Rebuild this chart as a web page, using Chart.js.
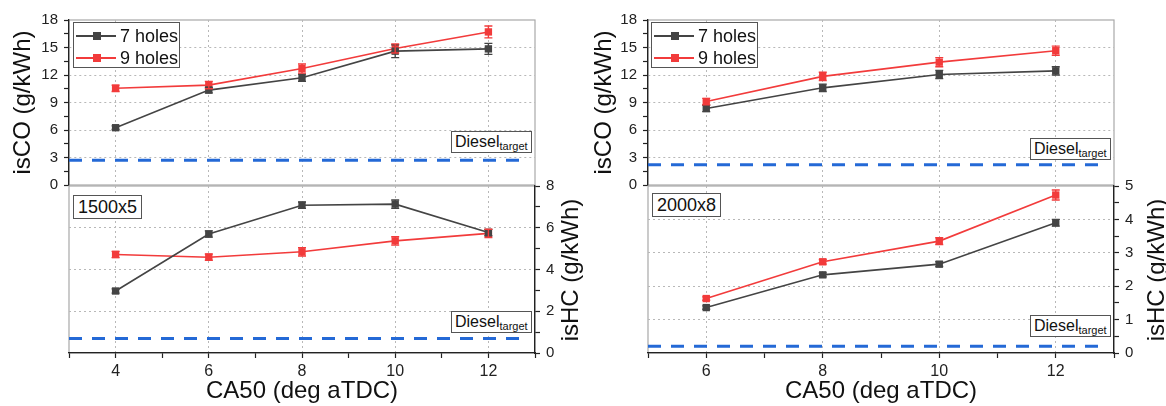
<!DOCTYPE html>
<html><head><meta charset="utf-8">
<script src="https://cdn.jsdelivr.net/npm/chart.js@4.4.1/dist/chart.umd.min.js"></script>
<style>
body{margin:0;background:#fff;width:1166px;height:406px;position:relative;overflow:hidden;font-family:"Liberation Sans",Arial,sans-serif;color:#111}
canvas{position:absolute}
.box{position:absolute;border:1px solid #555;background:#fff;box-sizing:border-box;white-space:nowrap}
.lab{font-size:18px;line-height:22px;padding:0 4px}
.dz{font-size:16px;line-height:20px;padding:0 3px}
.dz sub{font-size:11px;vertical-align:-3px;line-height:0}
.leg{padding:0}
.row{position:absolute;left:0;height:22px;font-size:18px;line-height:22px}
.ln{position:absolute;left:2px;top:10px;width:40px;height:2px}
.sq{position:absolute;left:17px;top:-3px;width:8px;height:8px}
.tx{position:absolute;left:46px;top:0}
.rt{position:absolute;width:200px;height:24px;font-size:24px;line-height:24px;text-align:center;color:#111;transform:rotate(-90deg);white-space:nowrap}
</style></head><body>
<canvas id="lt" width="590" height="200" style="left:0;top:0"></canvas>
<canvas id="lb" width="590" height="236" style="left:0;top:170px"></canvas>
<canvas id="rt" width="580" height="200" style="left:590px;top:0"></canvas>
<canvas id="rb" width="580" height="236" style="left:590px;top:170px"></canvas>

<div class="box leg" style="left:73px;top:22px;width:107px;height:46px">
 <div class="row" style="top:2px"><div class="ln" style="background:#444"><div class="sq" style="background:#444"></div></div><span class="tx">7 holes</span></div>
 <div class="row" style="top:24px"><div class="ln" style="background:#f23b3b"><div class="sq" style="background:#f23b3b"></div></div><span class="tx">9 holes</span></div>
</div>
<div class="box leg" style="left:651px;top:22px;width:107px;height:46px">
 <div class="row" style="top:2px"><div class="ln" style="background:#444"><div class="sq" style="background:#444"></div></div><span class="tx">7 holes</span></div>
 <div class="row" style="top:24px"><div class="ln" style="background:#f23b3b"><div class="sq" style="background:#f23b3b"></div></div><span class="tx">9 holes</span></div>
</div>
<div class="box lab" style="left:73px;top:195px">1500x5</div>
<div class="box lab" style="left:652px;top:193px">2000x8</div>
<div class="box dz" style="left:451px;top:131px">Diesel<sub>target</sub></div>
<div class="box dz" style="left:451px;top:311px">Diesel<sub>target</sub></div>
<div class="box dz" style="left:1030px;top:138px">Diesel<sub>target</sub></div>
<div class="box dz" style="left:1030px;top:315px">Diesel<sub>target</sub></div>
<div class="rt" style="left:470px;top:258px">isHC (g/kWh)</div>
<div class="rt" style="left:1056px;top:258px">isHC (g/kWh)</div>

<script>
// ---------- data ----------
const xLeft = [4, 6, 8, 10, 12];
const xRight = [6, 8, 10, 12];

const coLeft7 = [6.25, 10.35, 11.7, 14.6, 14.85];
const coLeft7Err = [0.2, 0.3, 0.4, 0.7, 0.6];
const coLeft9 = [10.55, 10.9, 12.7, 14.9, 16.7];
const coLeft9Err = [0.35, 0.4, 0.5, 0.5, 0.65];
const hcLeft7 = [2.97, 5.7, 7.08, 7.13, 5.77];
const hcLeft7Err = [0.1, 0.15, 0.15, 0.2, 0.15];
const hcLeft9 = [4.72, 4.59, 4.85, 5.37, 5.73];
const hcLeft9Err = [0.15, 0.15, 0.2, 0.2, 0.2];

const coRight7 = [8.35, 10.6, 12.05, 12.45];
const coRight7Err = [0.35, 0.4, 0.45, 0.45];
const coRight9 = [9.1, 11.85, 13.4, 14.65];
const coRight9Err = [0.35, 0.45, 0.5, 0.5];
const hcRight7 = [1.36, 2.34, 2.66, 3.9];
const hcRight7Err = [0.05, 0.06, 0.07, 0.1];
const hcRight9 = [1.63, 2.73, 3.35, 4.73];
const hcRight9Err = [0.05, 0.07, 0.1, 0.15];

const dieselCOLeft = 2.7, dieselHCLeft = 0.7;
const dieselCORight = 2.2, dieselHCRight = 0.2;
const xRangeLeft = [3, 13], xRangeRight = [5, 13];
const dieselEnd = 12.85;

const seriesNames = ['7 holes', '9 holes'];
const C7 = '#444444', C9 = '#f23b3b', CB = '#2469d6';

// ---------- helpers ----------
Chart.defaults.font.family = '"Liberation Sans", Arial, sans-serif';
Chart.defaults.color = '#222';
Chart.defaults.animation = false;

const pts = (xs, ys) => xs.map((x, i) => ({x, y: ys[i]}));

const errPlugin = {
  id: 'err',
  afterDatasetsDraw(chart) {
    const ctx = chart.ctx;
    chart.data.datasets.forEach((ds, i) => {
      if (!ds.errors) return;
      const meta = chart.getDatasetMeta(i);
      const xs = chart.scales.x, ys = chart.scales[meta.yAxisID];
      ctx.save();
      ctx.strokeStyle = ds.borderColor; ctx.lineWidth = 1.4;
      ds.data.forEach((p, j) => {
        const e = ds.errors[j];
        const px = xs.getPixelForValue(p.x);
        const y1 = ys.getPixelForValue(p.y + e), y2 = ys.getPixelForValue(p.y - e);
        ctx.beginPath();
        ctx.moveTo(px, y1); ctx.lineTo(px, y2);
        ctx.moveTo(px - 4, y1); ctx.lineTo(px + 4, y1);
        ctx.moveTo(px - 4, y2); ctx.lineTo(px + 4, y2);
        ctx.stroke();
      });
      ctx.restore();
    });
  }
};
const framePlugin = {
  id: 'frame',
  beforeDraw(chart) {
    const a = chart.chartArea, ctx = chart.ctx;
    ctx.save(); ctx.strokeStyle = '#a8a8a8'; ctx.lineWidth = 1.2;
    ctx.strokeRect(a.left, a.top, a.right - a.left, a.bottom - a.top);
    ctx.restore();
  }
};

function lineDs(label, xs, ys, errs, color, yID) {
  return {label, data: pts(xs, ys), errors: errs, borderColor: color, backgroundColor: color,
    borderWidth: 1.6, pointStyle: 'rect', pointRadius: 5.2, pointBorderWidth: 0, yAxisID: yID};
}
function dieselDs(xmin, val, yID) {
  return {label: 'Diesel target', data: [{x: xmin, y: val}, {x: dieselEnd, y: val}], borderColor: CB,
    borderWidth: 3, borderDash: [13, 10], pointRadius: 0, yAxisID: yID};
}

function xScale(range, bottom, titlePad) {
  return {
    type: 'linear', min: range[0], max: range[1],
    ticks: {stepSize: 1, display: bottom, padding: 4, font: {size: 16}, color: '#222',
      callback: v => (v % 2 === 0 ? String(v) : '')},
    grid: {color: c => (c.tick && c.tick.value % 2 === 0 && c.tick.value > range[0] && c.tick.value < range[1]) ? '#b8b8b8' : 'rgba(0,0,0,0)',
      lineWidth: 1, drawTicks: bottom, tickLength: 5, tickColor: '#222', tickWidth: 1.2},
    border: {display: bottom, color: '#222', width: 1.3, dash: [2, 3]},
    title: {display: bottom, text: 'CA50 (deg aTDC)', font: {size: 24, lineHeight: 1}, color: '#111', padding: {top: 0, bottom: titlePad}},
    afterFit: s => { s.height = bottom ? 53 : 0; }
  };
}
function yScale(pos, max, step, major, width, title, titlePad) {
  return {
    type: 'linear', position: pos, min: 0, max: max,
    ticks: {stepSize: step, padding: 6, font: {size: 15}, color: '#222', autoSkip: false,
      callback: v => (Math.abs(v / major - Math.round(v / major)) < 1e-6 ? String(v) : '')},
    grid: {color: c => {
        const v = c.tick ? c.tick.value : -1;
        const isMaj = Math.abs(v / major - Math.round(v / major)) < 1e-6;
        return (isMaj && v > 0 && v < max) ? '#b8b8b8' : 'rgba(0,0,0,0)';
      }, lineWidth: 1, drawTicks: true, tickLength: 5, tickColor: '#222', tickWidth: 1.2},
    border: {display: true, color: '#222', width: 1.3, dash: [2, 3]},
    title: {display: !!title, text: title || '', font: {size: 24, lineHeight: 1}, color: '#111', padding: {top: titlePad, bottom: titlePad}},
    afterFit: s => { s.width = width; }
  };
}

function makeChart(id, datasets, scales, padding) {
  return new Chart(document.getElementById(id), {
    type: 'line',
    data: {datasets},
    options: {
      responsive: false, animation: false, parsing: true,
      layout: {padding},
      plugins: {legend: {display: false}, tooltip: {enabled: false}},
      scales
    },
    plugins: [framePlugin, errPlugin]
  });
}

// Left top: isCO
makeChart('lt', [
  lineDs(seriesNames[0], xLeft, coLeft7, coLeft7Err, C7, 'y'),
  lineDs(seriesNames[1], xLeft, coLeft9, coLeft9Err, C9, 'y'),
  dieselDs(xRangeLeft[0], dieselCOLeft, 'y')
], {x: xScale(xRangeLeft, false, 0), y: yScale('left', 18, 1.5, 3, 69, 'isCO (g/kWh)', 11)},
  {top: 20, bottom: 14, left: 0, right: 55});

// Left bottom: isHC (title drawn as rotated HTML text)
makeChart('lb', [
  lineDs(seriesNames[0], xLeft, hcLeft7, hcLeft7Err, C7, 'y'),
  lineDs(seriesNames[1], xLeft, hcLeft9, hcLeft9Err, C9, 'y'),
  dieselDs(xRangeLeft[0], dieselHCLeft, 'y')
], {x: xScale(xRangeLeft, true, 3), y: yScale('right', 8, 1, 2, 55, '', 0)},
  {top: 16, bottom: 0, left: 69, right: 0});

// Right top: isCO
makeChart('rt', [
  lineDs(seriesNames[0], xRight, coRight7, coRight7Err, C7, 'y'),
  lineDs(seriesNames[1], xRight, coRight9, coRight9Err, C9, 'y'),
  dieselDs(xRangeRight[0], dieselCORight, 'y')
], {x: xScale(xRangeRight, false, 0), y: yScale('left', 18, 1.5, 3, 58, 'isCO (g/kWh)', 2)},
  {top: 20, bottom: 14, left: 0, right: 56});

// Right bottom: isHC
makeChart('rb', [
  lineDs(seriesNames[0], xRight, hcRight7, hcRight7Err, C7, 'y'),
  lineDs(seriesNames[1], xRight, hcRight9, hcRight9Err, C9, 'y'),
  dieselDs(xRangeRight[0], dieselHCRight, 'y')
], {x: xScale(xRangeRight, true, 3), y: yScale('right', 5, 0.5, 1, 56, '', 0)},
  {top: 16, bottom: 0, left: 58, right: 0});
</script>
</body></html>
